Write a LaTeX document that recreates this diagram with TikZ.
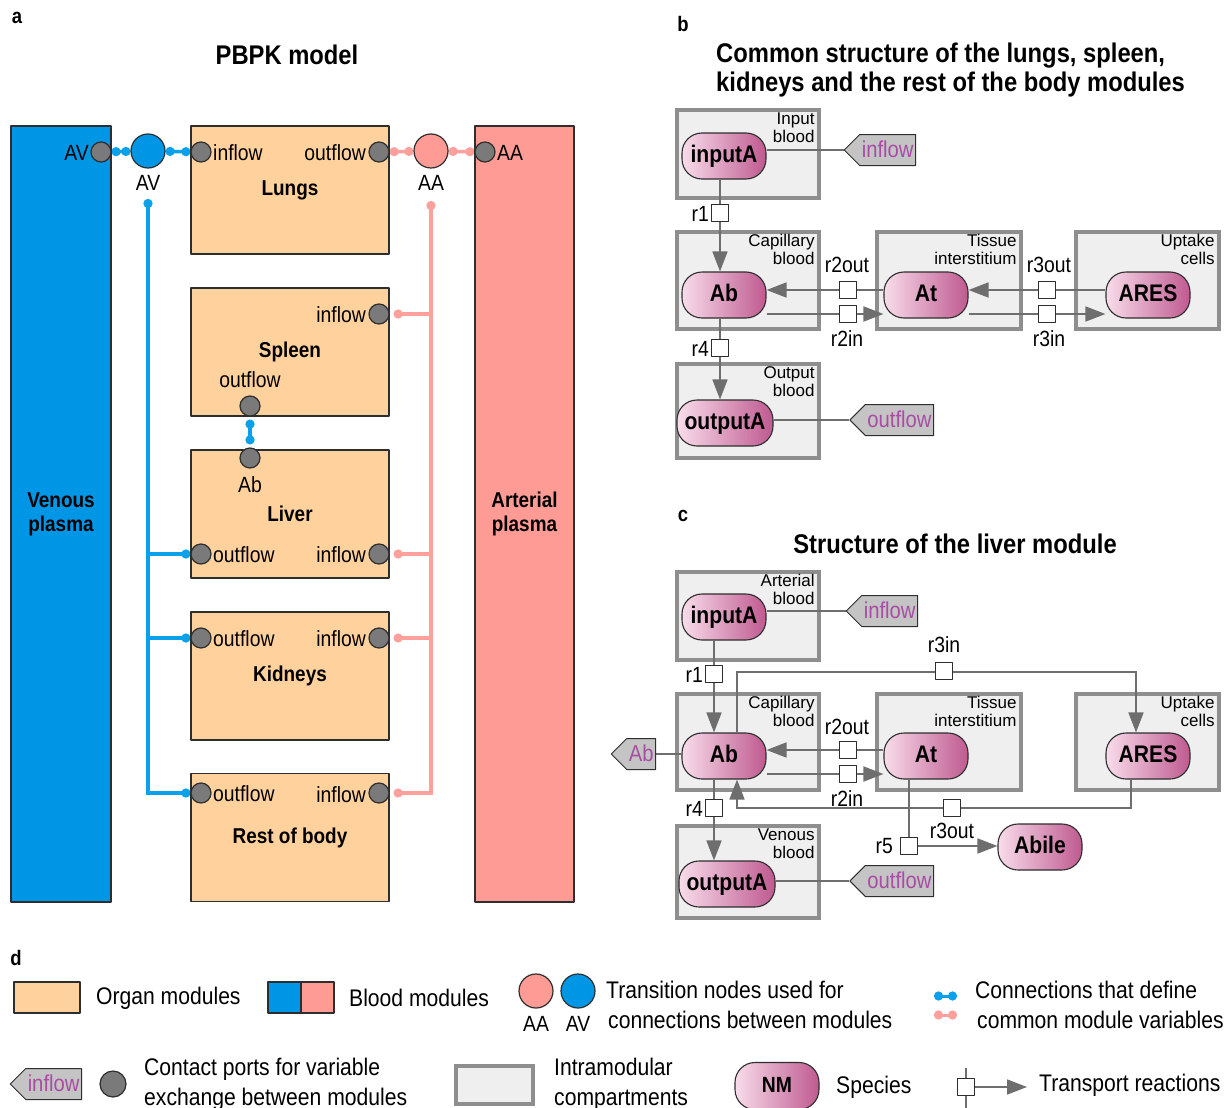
\documentclass[tikz,border=0pt]{standalone}
\usepackage{fontspec}
\setmainfont{Liberation Sans}[FakeStretch=0.88]
\newfontfamily\cfont{Liberation Sans}
\usetikzlibrary{arrows.meta,shapes.symbols,calc}
\pgfdeclarelayer{back}
\pgfdeclarelayer{lines}
\pgfsetlayers{back,lines,main}
\definecolor{venblue}{HTML}{0096E6}
\definecolor{blueln}{HTML}{0AA0EA}
\definecolor{artpink}{HTML}{FF9B95}
\definecolor{pinkln}{HTML}{FFA09C}
\definecolor{peach}{HTML}{FFD19C}
\definecolor{portgray}{HTML}{7A7A7A}
\definecolor{compfill}{HTML}{EFEFEF}
\definecolor{compdraw}{HTML}{8E8E8E}
\definecolor{linegray}{HTML}{6E6E6E}
\definecolor{sp1}{HTML}{F8DCEA}
\definecolor{sp2}{HTML}{BF5A90}
\definecolor{taggray}{HTML}{C4C4C4}
\definecolor{tagtext}{HTML}{A84CA4}
\definecolor{darkline}{HTML}{2E2E2E}
\begin{document}
\begin{tikzpicture}[x=1pt,y=-1pt,line join=round,
  lab/.style={inner sep=0pt,font=\fontsize{22}{26}\selectfont},
  plabel/.style={inner sep=0pt,font=\fontsize{21}{24}\selectfont\bfseries},
  titlef/.style={inner sep=0pt,font=\fontsize{27}{29}\selectfont\bfseries},
  organ/.style={draw=darkline,line width=1.2pt,fill=peach,minimum width=198pt,minimum height=128pt,inner sep=0pt,font=\fontsize{21.5}{24}\selectfont\bfseries},
  blood/.style={draw=darkline,line width=1.2pt,minimum height=776pt,inner sep=0pt,align=center,font=\fontsize{21.5}{24}\selectfont\bfseries},
  port/.style={circle,draw=darkline,line width=1.2pt,fill=portgray,minimum size=20pt,inner sep=0pt},
  trans/.style={circle,draw=darkline,line width=1.2pt,minimum size=34pt,inner sep=0pt},
  bconn/.style={draw=blueln,line width=3.5pt,{Circle[length=9pt,width=9pt]}-{Circle[length=9pt,width=9pt]}},
  bconne/.style={draw=blueln,line width=3.5pt,-{Circle[length=9pt,width=9pt]}},
  pconn/.style={draw=pinkln,line width=3.5pt,{Circle[length=9pt,width=9pt]}-{Circle[length=9pt,width=9pt]}},
  pconne/.style={draw=pinkln,line width=3.5pt,-{Circle[length=9pt,width=9pt]},shorten >=4pt},
  comp/.style={draw=compdraw,fill=compfill,line width=3.5pt,inner sep=0pt},
  complab/.style={anchor=north east,align=right,inner sep=0pt,font=\cfont\fontsize{17}{18}\selectfont},
  species/.style={draw=darkline,line width=1.1pt,rounded corners=20pt,left color=sp1,right color=sp2,minimum width=84pt,minimum height=46pt,inner xsep=5pt,text height=17pt,text depth=5pt,font=\fontsize{24}{28}\selectfont\bfseries},
  tagn/.style={signal,signal to=west,draw=darkline,line width=1pt,fill=taggray,text=tagtext,minimum height=31pt,inner xsep=2pt,inner ysep=6pt,text height=16pt,text depth=2pt,font=\fontsize{23}{26}\selectfont},
  rxn/.style={draw=darkline,fill=white,line width=1.1pt,minimum size=17pt,inner sep=0pt},
  rl/.style={draw=linegray,line width=1.7pt},
  arr/.style={-{Triangle[length=20pt,width=15pt]},color=linegray},
  legtxt/.style={inner sep=0pt,align=left,font=\fontsize{24}{30}\selectfont}
]
\useasboundingbox (0,0) rectangle (1229,1108);
\begin{pgfonlayer}{back}
\fill[white] (0,0) rectangle (1229,1108);
\end{pgfonlayer}

%%%%%%%%%%%%%%%% panel a
\node[plabel] (la) at (17,18) {a};
\node[titlef] (ta) at (287,55) {PBPK model};
\node[blood,fill=venblue,minimum width=100pt] (ven) at (61,514) {Venous\\plasma};
\node[blood,fill=artpink,minimum width=99pt] (art) at (524.5,514) {Arterial\\plasma};

\node[organ] (lungs) at (290,190) {Lungs};
\node[organ] (spleen) at (290,352) {Spleen};
\node[organ] (liver) at (290,514) {Liver};
\node[organ] (kidneys) at (290,676) {Kidneys};
\node[organ] (rest) at (290,837.5) {Rest of body};

\node[port] (avp) at (101,152) {};
\node[lab,anchor=east] (avpl) at (89,153) {AV};
\node[trans,fill=venblue] (avc) at (148,151) {};
\node[lab] (avl) at (148,183) {AV};
\node[port] (lin) at (201,152) {};
\node[lab,anchor=west] (linl) at (213,153) {inflow};
\node[port] (lout) at (379,152) {};
\node[lab,anchor=east] (loutl) at (366,153) {outflow};
\node[trans,fill=artpink] (aac) at (431,151) {};
\node[lab] (aal) at (431,183) {AA};
\node[port] (aap) at (485,152) {};
\node[lab,anchor=west] (aapl) at (497,153) {AA};

\node[port] (sin) at (379,314) {};
\node[lab,anchor=east] (sinl) at (366,315) {inflow};
\node[lab] (soutl) at (250,380) {outflow};
\node[port] (sout) at (250,406) {};

\node[port] (lvab) at (250,458) {};
\node[lab] (lvabl) at (250,485) {Ab};
\node[port] (lvout) at (201,554) {};
\node[lab,anchor=west] (lvoutl) at (213,555) {outflow};
\node[port] (lvin) at (379,554) {};
\node[lab,anchor=east] (lvinl) at (366,555) {inflow};

\node[port] (kout) at (201,638) {};
\node[lab,anchor=west] (koutl) at (213,639) {outflow};
\node[port] (kin) at (379,638) {};
\node[lab,anchor=east] (kinl) at (366,639) {inflow};

\node[port] (rout) at (201,793) {};
\node[lab,anchor=west] (routl) at (213,794) {outflow};
\node[port] (rin) at (379,793) {};
\node[lab,anchor=east] (rinl) at (366,795) {inflow};

\begin{pgfonlayer}{lines}
\draw[bconn] (avp) -- (avc);
\draw[bconn] (avc) -- (lin);
\draw[pconn] (lout) -- (aac);
\draw[pconn] (aac) -- (aap);
\coordinate (avtop) at (148,199);
\coordinate (aatop) at (431,201);
\draw[bconn] (avtop) -- (avtop |- rout) -- (rout);
\draw[bconne] (avtop |- lvout) -- (lvout);
\draw[bconne] (avtop |- kout) -- (kout);
\draw[pconn,shorten >=4pt] (aatop) -- (aatop |- rin) -- (rin);
\draw[pconne] (aatop |- sin) -- (sin);
\draw[pconne] (aatop |- lvin) -- (lvin);
\draw[pconne] (aatop |- kin) -- (kin);
\draw[bconn,shorten <=3pt,shorten >=3pt] (sout) -- (lvab);
\end{pgfonlayer}

%%%%%%%%%%%%%%%% panel b
\node[plabel] (lb) at (683,24) {b};
\node[titlef,anchor=west,align=left] (tb) at (716,70) {Common structure of the lungs, spleen,\\kidneys and the rest of the body modules};

\begin{pgfonlayer}{back}
\node[comp,minimum width=142pt,minimum height=88pt] (bcin) at (748,154) {};
\node[comp,minimum width=142pt,minimum height=97pt] (bccap) at (748,280.5) {};
\node[comp,minimum width=144pt,minimum height=97pt] (bctis) at (949,280.5) {};
\node[comp,minimum width=143pt,minimum height=97pt] (bcupt) at (1147.5,280.5) {};
\node[comp,minimum width=142pt,minimum height=94pt] (bcout) at (748,411) {};
\end{pgfonlayer}
\node[complab] (bcinl) at ($(bcin.north east)+(-6,4)$) {Input\\blood};
\node[complab] (bccapl) at ($(bccap.north east)+(-6,4)$) {Capillary\\blood};
\node[complab] (bctisl) at ($(bctis.north east)+(-6,4)$) {Tissue\\interstitium};
\node[complab] (bcuptl) at ($(bcupt.north east)+(-6,4)$) {Uptake\\cells};
\node[complab] (bcoutl) at ($(bcout.north east)+(-6,4)$) {Output\\blood};

\node[species] (binA) at (724,156) {inputA};
\node[species] (bAb) at (724,295) {Ab};
\node[species] (bAt) at (926,295) {At};
\node[species] (bARES) at (1148,295) {ARES};
\node[species,minimum width=96pt] (boutA) at (725,423) {outputA};

\node[tagn,anchor=east] (btin) at (916,150) {inflow};
\node[tagn,anchor=east] (btout) at (934,420) {outflow};

\node[rxn] (br1) at (720,213) {};
\node[lab,anchor=east] (br1l) at (709,214) {r1};
\node[rxn] (br4) at (720,348) {};
\node[lab,anchor=east] (br4l) at (709,349) {r4};
\node[rxn] (br2o) at (848,290) {};
\node[lab] (br2ol) at (847,265) {r2out};
\node[rxn] (br2i) at (848,314) {};
\node[lab] (br2il) at (847,339) {r2in};
\node[rxn] (br3o) at (1047,290) {};
\node[lab] (br3ol) at (1049,265) {r3out};
\node[rxn] (br3i) at (1047,314) {};
\node[lab] (br3il) at (1049,339) {r3in};

\begin{pgfonlayer}{lines}
\draw[rl] (btin.west) -- (btin.west -| binA.east);
\draw[rl] (btout.west) -- (btout.west -| boutA.east);
\draw[rl,arr] (br1 |- binA.south) -- (br1 |- bAb.north);
\draw[rl,arr] (br4 |- bAb.south) -- (br4 |- boutA.north);
\draw[rl,arr] (bAt.west |- br2o) -- (bAb.east |- br2o);
\draw[rl,arr] (bAb.east |- br2i) -- (bAt.west |- br2i);
\draw[rl,arr] (bARES.west |- br3o) -- (bAt.east |- br3o);
\draw[rl,arr] (bAt.east |- br3i) -- (bARES.west |- br3i);
\end{pgfonlayer}

%%%%%%%%%%%%%%%% panel c
\node[plabel] (lc) at (683,516) {c};
\node[titlef] (tc) at (955,544) {Structure of the liver module};

\begin{pgfonlayer}{back}
\node[comp,minimum width=142pt,minimum height=88pt] (ccart) at (748,616) {};
\node[comp,minimum width=142pt,minimum height=96pt] (cccap) at (748,742) {};
\node[comp,minimum width=144pt,minimum height=96pt] (cctis) at (949,742) {};
\node[comp,minimum width=143pt,minimum height=96pt] (ccupt) at (1147.5,742) {};
\node[comp,minimum width=142pt,minimum height=92pt] (ccven) at (748,872) {};
\end{pgfonlayer}
\node[complab] (ccartl) at ($(ccart.north east)+(-6,4)$) {Arterial\\blood};
\node[complab] (cccapl) at ($(cccap.north east)+(-6,4)$) {Capillary\\blood};
\node[complab] (cctisl) at ($(cctis.north east)+(-6,4)$) {Tissue\\interstitium};
\node[complab] (ccuptl) at ($(ccupt.north east)+(-6,4)$) {Uptake\\cells};
\node[complab] (ccvenl) at ($(ccven.north east)+(-6,4)$) {Venous\\blood};

\node[species] (cinA) at (724,617) {inputA};
\node[species] (cAb) at (724,756) {Ab};
\node[species] (cAt) at (926,756) {At};
\node[species] (cARES) at (1148,756) {ARES};
\node[species,minimum width=96pt] (coutA) at (727,884) {outputA};
\node[species] (cAbile) at (1040,847) {Abile};

\node[tagn,anchor=east] (ctin) at (918,611) {inflow};
\node[tagn,anchor=east] (ctout) at (934,881) {outflow};
\node[tagn,anchor=east] (ctab) at (656,754) {Ab};

\node[rxn] (cr1) at (714,674) {};
\node[lab,anchor=east] (cr1l) at (703,675) {r1};
\node[rxn] (cr3i) at (944,671) {};
\node[lab] (cr3il) at (944,645) {r3in};
\node[rxn] (cr2o) at (848,750) {};
\node[lab] (cr2ol) at (847,727) {r2out};
\node[rxn] (cr2i) at (848,774) {};
\node[lab] (cr2il) at (847,799) {r2in};
\node[rxn] (cr4) at (714,808) {};
\node[lab,anchor=east] (cr4l) at (703,809) {r4};
\node[rxn] (cr3o) at (952,808) {};
\node[lab] (cr3ol) at (952,831) {r3out};
\node[rxn] (cr5) at (909,846) {};
\node[lab,anchor=east] (cr5l) at (893,846) {r5};

\coordinate (c3a) at (737,672);
\coordinate (c3b) at (1136,672);
\coordinate (c3c) at (1131,808);
\coordinate (c3d) at (737,808);
\begin{pgfonlayer}{lines}
\draw[rl] (ctin.west) -- (ctin.west -| cinA.east);
\draw[rl] (ctout.west) -- (ctout.west -| coutA.east);
\draw[rl] (ctab.east) -- (ctab.east -| cAb.west);
\draw[rl,arr] (cr1 |- cinA.south) -- (cr1 |- cAb.north);
\draw[rl,arr] (cr4 |- cAb.south) -- (cr4 |- coutA.north);
\draw[rl,arr] (cAt.west |- cr2o) -- (cAb.east |- cr2o);
\draw[rl,arr] (cAb.east |- cr2i) -- (cAt.west |- cr2i);
\draw[rl,arr] (c3a |- cAb.north) -- (c3a) -- (c3b) -- (c3b |- cARES.north);
\draw[rl,arr] (c3c |- cARES.south) -- (c3c) -- (c3d) -- (c3d |- cAb.south);
\draw[rl,arr] (cr5 |- cAt.south) -- (cr5.center) -- (cAbile.west |- cr5);
\end{pgfonlayer}

%%%%%%%%%%%%%%%% panel d (legend)
\node[plabel] (ld) at (16,958) {d};
\node[draw=darkline,line width=1.2pt,fill=peach,minimum width=66pt,minimum height=31pt] (lgorg) at (47,997.5) {};
\node[legtxt,anchor=west] (lgorgt) at (96,998) {Organ modules};
\node[draw=darkline,line width=1.2pt,fill=venblue,minimum width=33pt,minimum height=31pt] (lgb1) at (284.5,997.5) {};
\node[draw=darkline,line width=1.2pt,fill=artpink,minimum width=33pt,minimum height=31pt] (lgb2) at (317.5,997.5) {};
\node[legtxt,anchor=west] (lgbt) at (349,998) {Blood modules};
\node[trans,fill=artpink] (lgaa) at (536,991) {};
\node[trans,fill=venblue] (lgav) at (578,991) {};
\node[lab] (lgaal) at (536,1024) {AA};
\node[lab] (lgavl) at (578,1024) {AV};
\node[legtxt,anchor=west] (lgtt) at (606,1005) {Transition nodes used for\\\hspace*{2pt}connections between modules};
\coordinate (lc1a) at (934,996);
\coordinate (lc1b) at (957,996);
\coordinate (lc2a) at (934,1015);
\coordinate (lc2b) at (957,1015);
\draw[bconn,line width=3pt] (lc1a) -- (lc1b);
\draw[pconn,line width=3pt] (lc2a) -- (lc2b);
\node[legtxt,anchor=west] (lgct) at (975,1005) {Connections that define\\\hspace*{2pt}common module variables};

\node[tagn,anchor=east] (lgtag) at (82,1084) {inflow};
\node[port,minimum size=26pt] (lgport) at (113,1084) {};
\node[legtxt,anchor=west] (lgpt) at (144,1084) {Contact ports for variable\\exchange between modules};
\begin{pgfonlayer}{back}
\node[comp,minimum width=77pt,minimum height=38pt] (lgcomp) at (494.5,1085) {};
\end{pgfonlayer}
\node[legtxt,anchor=west] (lgcompt) at (554,1084) {Intramodular\\compartments};
\node[species,minimum height=47pt,font=\fontsize{22}{26}\selectfont\bfseries] (lgsp) at (777,1086) {NM};
\node[legtxt,anchor=west] (lgspt) at (836,1087) {Species};
\node[rxn] (lgr) at (966,1087) {};
\coordinate (lgrt) at (966,1068);
\coordinate (lgrb) at (966,1110);
\coordinate (lgre) at (1027,1087);
\begin{pgfonlayer}{lines}
\draw[rl] (lgrt) -- (lgrb);
\draw[rl,arr] (lgr.center) -- (lgre);
\end{pgfonlayer}
\node[legtxt,anchor=west] (lgrtt) at (1039,1085) {Transport reactions};
\end{tikzpicture}
\end{document}
